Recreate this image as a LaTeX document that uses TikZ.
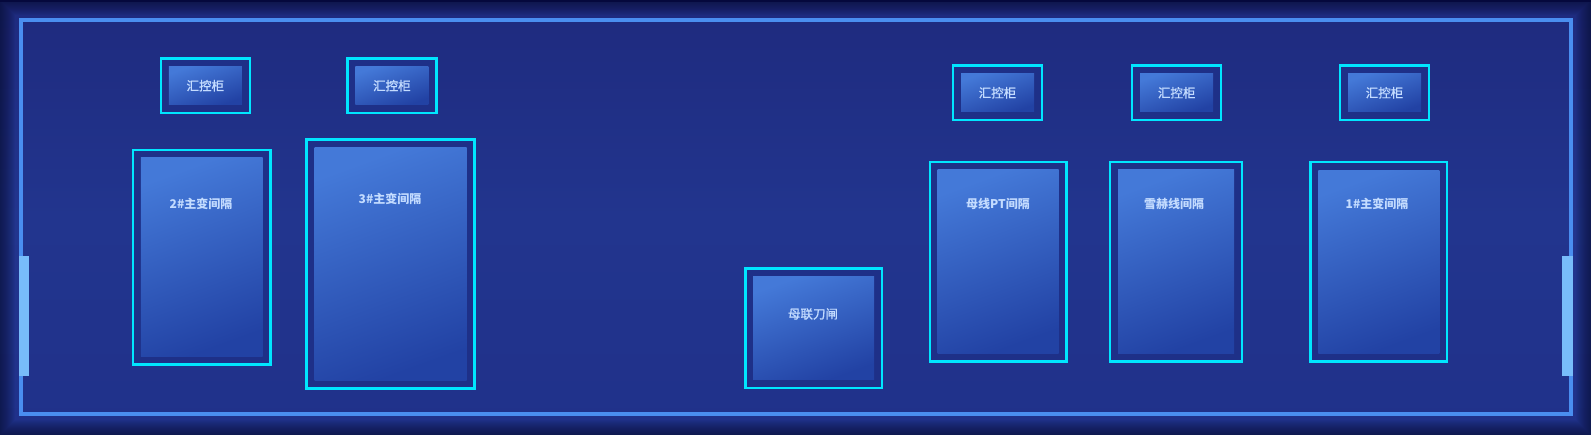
\documentclass[tikz,border=0pt]{standalone}
\usepackage{fontspec}
\usepackage{tikz}
\newfontfamily\cjk{Noto Sans CJK SC}
\newfontfamily\cjkmed[FakeBold=1]{Noto Sans CJK SC}
\definecolor{bgtop}{HTML}{1E2A7E}
\definecolor{bgmid}{HTML}{22358E}
\definecolor{bgbot}{HTML}{20318A}
\definecolor{shadowcol}{HTML}{080C2A}
\definecolor{framecol}{HTML}{4A8EF0}
\definecolor{barcol}{HTML}{78BCFA}
\definecolor{cyanline}{HTML}{00E6FF}
\definecolor{gapcol}{HTML}{1E3088}
\definecolor{paneltop}{HTML}{4479D8}
\definecolor{panelbot}{HTML}{2242A4}
\definecolor{textcol}{HTML}{C4DCFF}

\begin{document}
\begin{tikzpicture}[x=1pt, y=-1pt,
bayframe/.style={draw=cyanline, line width=2.5pt, fill=gapcol, inner sep=0pt, outer sep=0pt},
bayfill/.style={top color=paneltop, bottom color=panelbot, shading angle=20, inner sep=0pt, outer sep=0pt},
cabframe/.style={bayframe, minimum width=89, minimum height=54.5},
cabfill/.style={bayfill, minimum width=73, minimum height=38},
cabtext/.style={text=textcol, font=\cjkmed\fontsize{12.5}{14}\selectfont},
baytext/.style={text=textcol, font=\cjk\bfseries\fontsize{12}{14}\selectfont}
]
\useasboundingbox (0,0) rectangle (1591,435);
%Background
\shade[top color=bgtop, bottom color=bgbot, middle color=bgmid] (0,0) rectangle (1591,435);
\foreach \w in {2,4,...,30}
  \draw[shadowcol, line width=\w, draw opacity=0.05] (0,0) rectangle (1591,435);
\fill[black!80!blue, opacity=0.6] (0,0) rectangle (1591,2);
\draw[framecol, line width=4pt] (21.3,20.5) rectangle (1571,414);
\fill[barcol] (19.3,255.7) rectangle (29,376);
\fill[barcol] (1562.3,256) rectangle (1572.7,376);

%Nodes
\node[cabframe] (f1) at (205.3,85.7) {};
\node[cabfill]  (h1) at (f1.center) {};
\node[cabtext]  (c1) at (h1.center) {汇控柜};
\node[cabframe] (f2) at (391.9,85.7) {};
\node[cabfill]  (h2) at (f2.center) {};
\node[cabtext]  (c2) at (h2.center) {汇控柜};
\node[cabframe] (f3) at (997.5,92.8) {};
\node[cabfill]  (h3) at (f3.center) {};
\node[cabtext]  (c3) at (h3.center) {汇控柜};
\node[cabframe] (f4) at (1176.7,92.8) {};
\node[cabfill]  (h4) at (f4.center) {};
\node[cabtext]  (c4) at (h4.center) {汇控柜};
\node[cabframe] (f5) at (1384.5,92.8) {};
\node[cabfill]  (h5) at (f5.center) {};
\node[cabtext]  (c5) at (h5.center) {汇控柜};

\node[bayframe, minimum width=137.2, minimum height=214.2] (g2) at (201.8,257.3) {};
\node[bayfill, minimum width=121.7, minimum height=198.7]  (b2) at (g2.center) {};
\node[baytext] (t2) at (201,204) {2\#主变间隔};
\node[bayframe, minimum width=167.9, minimum height=248.9] (g3) at (390.5,264) {};
\node[bayfill, minimum width=152, minimum height=233.4]    (b3) at (g3.center) {};
\node[baytext] (t3) at (390,199.3) {3\#主变间隔};
\node[bayframe, minimum width=136.5, minimum height=119.2] (gm) at (813.5,328.2) {};
\node[bayfill, minimum width=121, minimum height=103]      (bm) at (gm.center) {};
\node[cabtext] (tm) at (813,314) {母联刀闸};
\node[bayframe, minimum width=136.5, minimum height=199.5] (gp) at (998,262) {};
\node[bayfill, minimum width=121, minimum height=184]      (bp) at (gp.center) {};
\node[baytext] (tp) at (998,204) {母线PT间隔};
\node[bayframe, minimum width=131.8, minimum height=199.5] (gx) at (1176,262) {};
\node[bayfill, minimum width=116, minimum height=184]      (bx) at (gx.center) {};
\node[baytext] (tx) at (1174,204) {雪赫线间隔};
\node[bayframe, minimum width=136.5, minimum height=199.5] (g1) at (1378.8,262) {};
\node[bayfill, minimum width=121, minimum height=183]      (b1) at (g1.center) {};
\node[baytext] (t1) at (1377,204) {1\#主变间隔};
\end{tikzpicture}
\end{document}
